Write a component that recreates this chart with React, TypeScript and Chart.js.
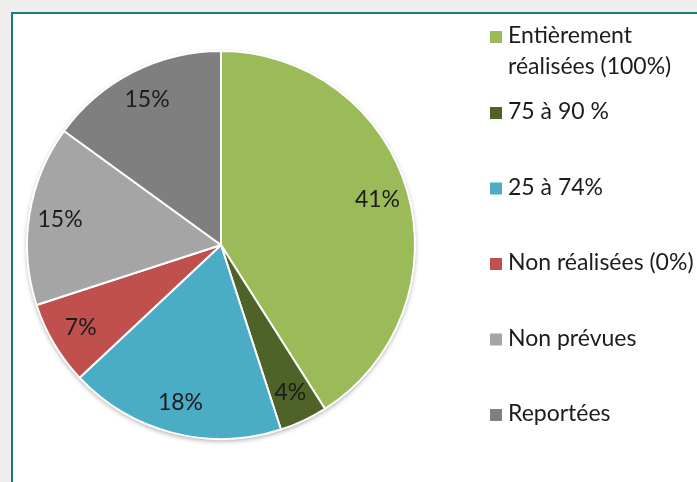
import React, { useEffect, useRef } from "react";
import { Chart, registerables } from "chart.js";

Chart.register(...registerables);

const categories = [
  "Entièrement réalisées (100%)",
  "75 à 90 %",
  "25 à 74%",
  "Non réalisées (0%)",
  "Non prévues",
  "Reportées",
];
const legendLines = [
  ["Entièrement", "réalisées (100%)"],
  ["75 à 90 %"],
  ["25 à 74%"],
  ["Non réalisées (0%)"],
  ["Non prévues"],
  ["Reportées"],
];
const values = [41, 4, 18, 7, 15, 15];
const colors = ["#9BBB59", "#4F6228", "#4BACC6", "#C0504D", "#A5A5A5", "#7F7F7F"];

const FONT = "Lato, 'Noto Sans', sans-serif";

const pieShadow = {
  id: "pieShadow",
  beforeDatasetsDraw(chart: any) {
    const meta = chart.getDatasetMeta(0);
    const a = meta.data[0];
    if (!a) return;
    const { x, y, outerRadius } = a.getProps(["x", "y", "outerRadius"], true);
    const ctx = chart.ctx;
    ctx.save();
    ctx.shadowColor = "rgba(0,0,0,0.35)";
    ctx.shadowBlur = 5;
    ctx.shadowOffsetY = 2;
    ctx.beginPath();
    ctx.arc(x, y, outerRadius, 0, Math.PI * 2);
    ctx.fillStyle = "#ffffff";
    ctx.fill();
    ctx.restore();
  },
};

const pieLabels = {
  id: "pieLabels",
  afterDatasetsDraw(chart: any) {
    const ctx = chart.ctx;
    const meta = chart.getDatasetMeta(0);
    const data = chart.data.datasets[0].data as number[];
    ctx.save();
    ctx.font = `23px ${FONT}`;
    ctx.fillStyle = "#1c1c1c";
    ctx.textAlign = "center";
    ctx.textBaseline = "middle";
    meta.data.forEach((arc: any, i: number) => {
      const p = arc.getProps(["x", "y", "startAngle", "endAngle", "outerRadius"], true);
      const mid = (p.startAngle + p.endAngle) / 2;
      const r = p.outerRadius * 0.84;
      ctx.fillText(`${data[i]}%`, p.x + Math.cos(mid) * r, p.y + Math.sin(mid) * r);
    });
    ctx.restore();
  },
};

const sideLegend = {
  id: "sideLegend",
  afterDraw(chart: any) {
    const ctx = chart.ctx;
    const bg = chart.data.datasets[0].backgroundColor as string[];
    const markerX = 490;
    const textX = 508;
    ctx.save();
    ctx.font = `23px ${FONT}`;
    ctx.textAlign = "left";
    ctx.textBaseline = "middle";
    legendLines.forEach((lines, i) => {
      const y = i === 0 ? 36 : 112 + (i - 1) * 75.5;
      ctx.fillStyle = bg[i];
      ctx.fillRect(markerX, y - 5, 12, 12);
      ctx.fillStyle = "#1c1c1c";
      lines.forEach((ln, j) => ctx.fillText(ln, textX, y + j * 31));
    });
    ctx.restore();
  },
};

export default function App() {
  const ref = useRef<HTMLCanvasElement>(null);
  useEffect(() => {
    document.body.style.margin = "0";
    const chart = new Chart(ref.current!, {
      type: "pie",
      data: {
        labels: categories,
        datasets: [
          {
            data: values,
            backgroundColor: colors,
            borderColor: "#ffffff",
            borderWidth: 2,
          },
        ],
      },
      options: {
        animation: false,
        responsive: false,
        maintainAspectRatio: false,
        layout: { padding: { left: 26, right: 281, top: 50, bottom: 42 } },
        plugins: {
          legend: { display: false },
          tooltip: { enabled: false },
        },
      },
      plugins: [pieShadow, pieLabels, sideLegend],
    });
    return () => chart.destroy();
  }, []);

  return (
    <div style={{ position: "relative", width: 697, height: 482, background: "#eeeeee", overflow: "hidden" }}>
      <div
        style={{
          position: "absolute",
          left: 11,
          top: 12,
          width: 720,
          height: 500,
          background: "#ffffff",
          border: "2px solid #1B7A80",
          boxSizing: "border-box",
        }}
      />
      <canvas ref={ref} width={697} height={482} style={{ position: "absolute", left: 0, top: 0 }} />
    </div>
  );
}
